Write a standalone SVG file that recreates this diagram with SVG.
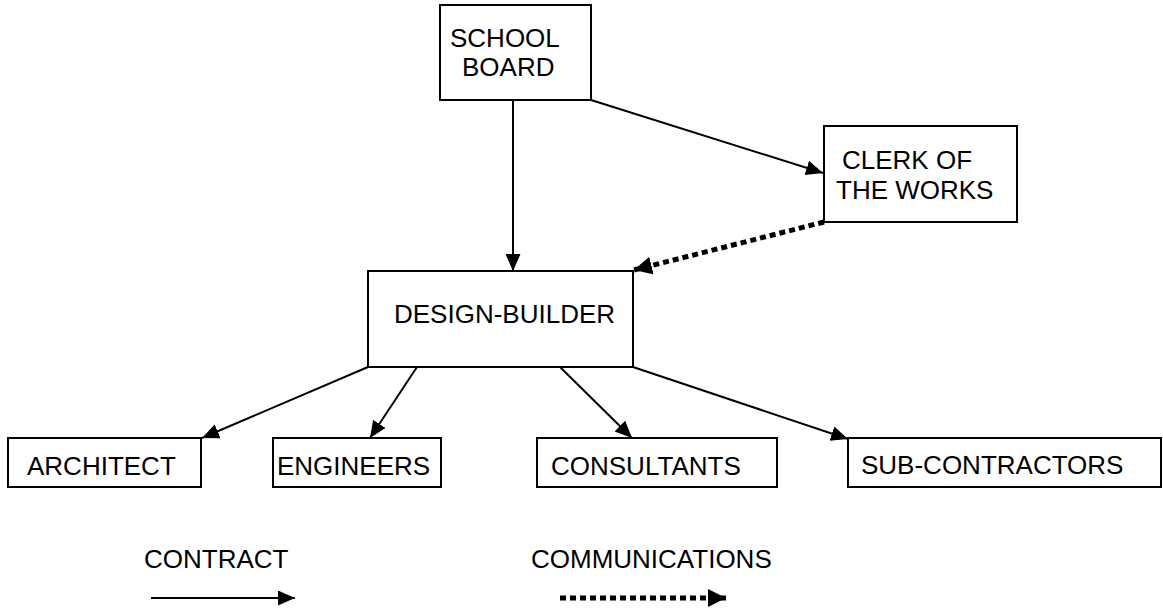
<svg xmlns="http://www.w3.org/2000/svg" width="1163" height="611" viewBox="0 0 1163 611">
<style>
.box{fill:#fff;stroke:#000;stroke-width:2}
.t{font-family:"Liberation Sans",Arial,sans-serif;font-size:26px;fill:#000}
.solid{fill:none;stroke:#000;stroke-width:2}
.dot{fill:none;stroke:#000;stroke-width:5;stroke-dasharray:6 4}
</style>
<defs>
<marker id="ah" markerUnits="userSpaceOnUse" markerWidth="18" markerHeight="18" refX="17" refY="7.5" orient="auto">
<path d="M0,0 L17,7.5 L0,15 z" fill="#000"/>
</marker>
<marker id="ahd" markerUnits="userSpaceOnUse" markerWidth="20" markerHeight="20" refX="18" refY="9" orient="auto">
<path d="M0,0 L18,9 L0,18 z" fill="#000"/>
</marker>
</defs>
<rect width="1163" height="611" fill="#fff"/>
<g id="connectors">
<line class="solid" x1="513" y1="100" x2="513" y2="271" marker-end="url(#ah)"/>
<line class="solid" x1="591" y1="100" x2="823" y2="173" marker-end="url(#ah)"/>
<line class="dot" x1="824" y1="222" x2="634" y2="270" marker-end="url(#ahd)"/>
<line class="solid" x1="368" y1="367" x2="202" y2="438" marker-end="url(#ah)"/>
<line class="solid" x1="417" y1="367" x2="370" y2="438" marker-end="url(#ah)"/>
<line class="solid" x1="560" y1="367" x2="632" y2="438" marker-end="url(#ah)"/>
<line class="solid" x1="633" y1="367" x2="848" y2="439" marker-end="url(#ah)"/>
</g>
<g id="school-board">
<rect class="box" x="440" y="5" width="151" height="95"/>
<text class="t" x="450" y="47">SCHOOL</text>
<text class="t" x="462" y="76">BOARD</text>
</g>
<g id="clerk-of-the-works">
<rect class="box" x="824" y="126" width="193" height="96"/>
<text class="t" x="842" y="169">CLERK OF</text>
<text class="t" x="836" y="199">THE WORKS</text>
</g>
<g id="design-builder">
<rect class="box" x="368" y="271" width="265" height="96"/>
<text class="t" x="394" y="323">DESIGN-BUILDER</text>
</g>
<g id="architect">
<rect class="box" x="8" y="438" width="193" height="49"/>
<text class="t" x="27" y="475">ARCHITECT</text>
</g>
<g id="engineers">
<rect class="box" x="273" y="438" width="168" height="49"/>
<text class="t" x="277" y="475">ENGINEERS</text>
</g>
<g id="consultants">
<rect class="box" x="537" y="438" width="240" height="49"/>
<text class="t" x="551" y="475">CONSULTANTS</text>
</g>
<g id="sub-contractors">
<rect class="box" x="848" y="438" width="313" height="49"/>
<text class="t" x="861" y="474">SUB-CONTRACTORS</text>
</g>
<g id="legend">
<text class="t" x="144" y="568">CONTRACT</text>
<line class="solid" x1="151" y1="598" x2="295" y2="598" marker-end="url(#ah)"/>
<text class="t" x="531" y="568">COMMUNICATIONS</text>
<line class="dot" x1="560" y1="598" x2="726" y2="598" marker-end="url(#ahd)"/>
</g>
</svg>
